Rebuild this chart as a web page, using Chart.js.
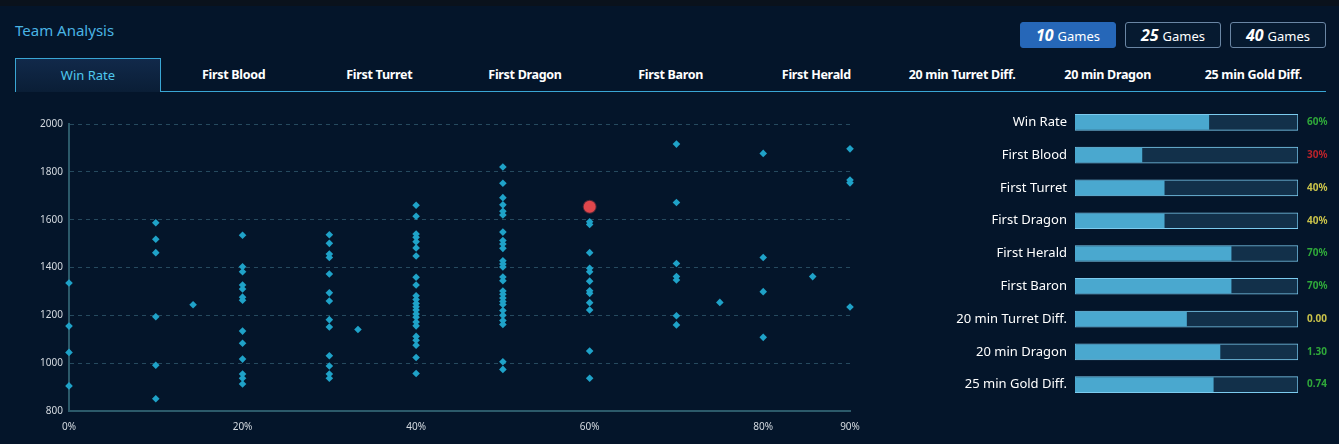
<!DOCTYPE html>
<html>
<head>
<meta charset="utf-8">
<script src="https://cdn.jsdelivr.net/npm/chart.js@4/dist/chart.umd.min.js"></script>
<style>
  body { margin: 0; background: #04152a; width: 1339px; height: 444px; overflow: hidden; font-family: "Noto Sans", sans-serif; position: relative; }
  .topbar { position: absolute; left: 0; top: 0; width: 1339px; height: 6px; background: #0a121c; }
  .title { position: absolute; left: 15px; top: 20px; font-size: 15px; color: #4ab4e4; }
  .btn { position: absolute; top: 22px; width: 96px; height: 26px; box-sizing: border-box; border: 1px solid #6a86a4; border-radius: 3px; background: #061a30; color: #fff; text-align: center; line-height: 24px; font-size: 13px; }
  .btn b { font-style: italic; font-size: 16px; margin-right: 4px; }
  .btn.on { background: #2667b8; border-color: #2667b8; }
  .tabs { position: absolute; left: 15px; top: 58px; width: 1311px; height: 34px; }
  .tab { position: absolute; top: 0; width: 146px; height: 34px; line-height: 33px; text-align: center; color: #fff; font-weight: bold; font-size: 12.5px; letter-spacing: -0.3px; box-sizing: border-box; }
  .tab.on { border: 1px solid #3aa6d4; border-bottom: none; background: linear-gradient(#11294a, #0a1e36); color: #4ec8ee; font-weight: normal; font-size: 13px; letter-spacing: 0; }
  .line { position: absolute; left: 160px; top: 91px; width: 1166px; height: 1px; background: #3aa6d4; }
  #scatter { position: absolute; left: 30px; top: 110px; }
  #bars { position: absolute; left: 950px; top: 106px; }
</style>
</head>
<body>
<div class="topbar"></div>
<div class="title">Team Analysis</div>
<div class="btn on" style="left:1020px"><b>10</b>Games</div>
<div class="btn" style="left:1125px"><b>25</b>Games</div>
<div class="btn" style="left:1230px"><b>40</b>Games</div>
<div class="tabs" id="tabs"></div>
<div class="line"></div>
<canvas id="scatter" width="840" height="325"></canvas>
<canvas id="bars" width="389" height="295"></canvas>
<script>
var tabNames = ['Win Rate', 'First Blood', 'First Turret', 'First Dragon', 'First Baron', 'First Herald', '20 min Turret Diff.', '20 min Dragon', '25 min Gold Diff.'];

// scatter: win rate (x) columns and the ratings found at each one
var xCols = [0, 10, 14.3, 20, 30, 33.3, 40, 50, 60, 70, 75, 80, 85.7, 90];
var yCols = [
    [1335, 1155, 1045, 905],
    [1587, 1518, 1462, 1194, 991, 851],
    [1244],
    [1535, 1403, 1382, 1327, 1310, 1276, 1263, 1134, 1083, 1017, 955, 937, 913],
    [1537, 1501, 1456, 1442, 1373, 1294, 1260, 1182, 1151, 1031, 988, 955, 937],
    [1141],
    [1660, 1614, 1540, 1526, 1508, 1482, 1448, 1359, 1327, 1282, 1266, 1250, 1236, 1222, 1206, 1192, 1172, 1156, 1112, 1096, 1075, 1024, 957],
    [1820, 1752, 1692, 1662, 1635, 1620, 1548, 1513, 1498, 1480, 1428, 1415, 1402, 1360, 1345, 1302, 1288, 1272, 1258, 1245, 1220, 1200, 1178, 1162, 1006, 974],
    [1591, 1580, 1462, 1397, 1382, 1343, 1303, 1292, 1253, 1222, 1051, 937],
    [1916, 1672, 1417, 1362, 1348, 1198, 1160],
    [1254],
    [1877, 1442, 1299, 1108],
    [1362],
    [1896, 1766, 1754, 1235]
];
var highlight = [{ x: 60, y: 1654 }];
var xTicks = [0, 20, 40, 60, 80, 90];

// right panel
var statNames = ['Win Rate', 'First Blood', 'First Turret', 'First Dragon', 'First Herald', 'First Baron', '20 min Turret Diff.', '20 min Dragon', '25 min Gold Diff.'];
var statFill = [0.60, 0.30, 0.40, 0.40, 0.70, 0.70, 0.50, 0.65, 0.62];
var statText = ['60%', '30%', '40%', '40%', '70%', '70%', '0.00', '1.30', '0.74'];
var statColor = ['#2fa83a', '#b8232b', '#c9c24a', '#c9c24a', '#2fa83a', '#2fa83a', '#c9c24a', '#2fa83a', '#2fa83a'];

var tabs = document.getElementById('tabs');
tabNames.forEach(function (n, i) {
    var d = document.createElement('div');
    d.className = 'tab' + (i == 0 ? ' on' : '');
    d.style.left = (i * 145.67) + 'px';
    d.textContent = n;
    tabs.appendChild(d);
});

var points = [];
xCols.forEach(function (x, i) {
    yCols[i].forEach(function (y) { points.push({ x: x, y: y }); });
});

Chart.defaults.font.family = '"Noto Sans", sans-serif';

new Chart(document.getElementById('scatter').getContext('2d'), {
    type: 'scatter',
    data: {
        datasets: [{
            data: highlight,
            pointStyle: 'circle',
            pointRadius: 6,
            backgroundColor: '#e0474c',
            borderColor: 'rgba(224,71,76,0.35)',
            borderWidth: 2,
            clip: false
        }, {
            data: points,
            pointStyle: 'rectRot',
            pointRadius: 3.8,
            backgroundColor: '#1fa2c8',
            borderWidth: 0,
            clip: false
        }]
    },
    options: {
        responsive: false,
        animation: false,
        layout: { padding: { top: 14, right: 20 } },
        plugins: { legend: { display: false }, tooltip: { enabled: false } },
        scales: {
            x: {
                type: 'linear', min: 0, max: 90,
                afterBuildTicks: function (s) { s.ticks = xTicks.map(function (v) { return { value: v }; }); },
                afterFit: function (s) { s.height = 24; },
                grid: { display: false },
                border: { display: true, color: '#2c5a6a', width: 2 },
                ticks: { color: '#d4dae0', font: { size: 10 }, padding: 2, callback: function (v) { return v + '%'; } }
            },
            y: {
                min: 800, max: 2000,
                afterFit: function (s) { s.width = 39; },
                grid: { color: 'rgba(80,140,160,0.45)', drawTicks: false },
                border: { display: true, color: '#2c5a6a', width: 2, dash: [4, 4] },
                ticks: { color: '#d4dae0', font: { size: 10 }, stepSize: 200, padding: 6, callback: function (v) { return String(v); } }
            }
        }
    }
});

function noPad(w) {
    return function (s) { s.width = w; s.paddingTop = 0; s.paddingBottom = 0; };
}

new Chart(document.getElementById('bars').getContext('2d'), {
    type: 'bar',
    data: {
        labels: statNames,
        datasets: [{
            data: statFill,
            backgroundColor: '#4aa8cf',
            barThickness: 14,
            grouped: false,
            order: 1
        }, {
            data: statNames.map(function () { return 1; }),
            backgroundColor: '#12304a',
            borderColor: '#7ccbef',
            borderWidth: 1,
            borderSkipped: false,
            barThickness: 16,
            grouped: false,
            order: 2
        }]
    },
    options: {
        indexAxis: 'y',
        responsive: false,
        animation: false,
        layout: { padding: 0 },
        plugins: { legend: { display: false }, tooltip: { enabled: false } },
        scales: {
            x: { min: 0, max: 1, display: false },
            y: {
                afterFit: noPad(125),
                grid: { display: false },
                border: { display: false },
                ticks: { color: '#ffffff', font: { size: 13 }, padding: 0 }
            },
            y2: {
                axis: 'y',
                type: 'category',
                position: 'right',
                labels: statNames,
                afterFit: noPad(41),
                grid: { display: false },
                border: { display: false },
                ticks: {
                    padding: 1,
                    font: { size: 10, weight: 'bold' },
                    color: function (c) { return statColor[c.index]; },
                    callback: function (v, i) { return statText[i]; }
                }
            }
        }
    }
});
</script>
</body>
</html>
